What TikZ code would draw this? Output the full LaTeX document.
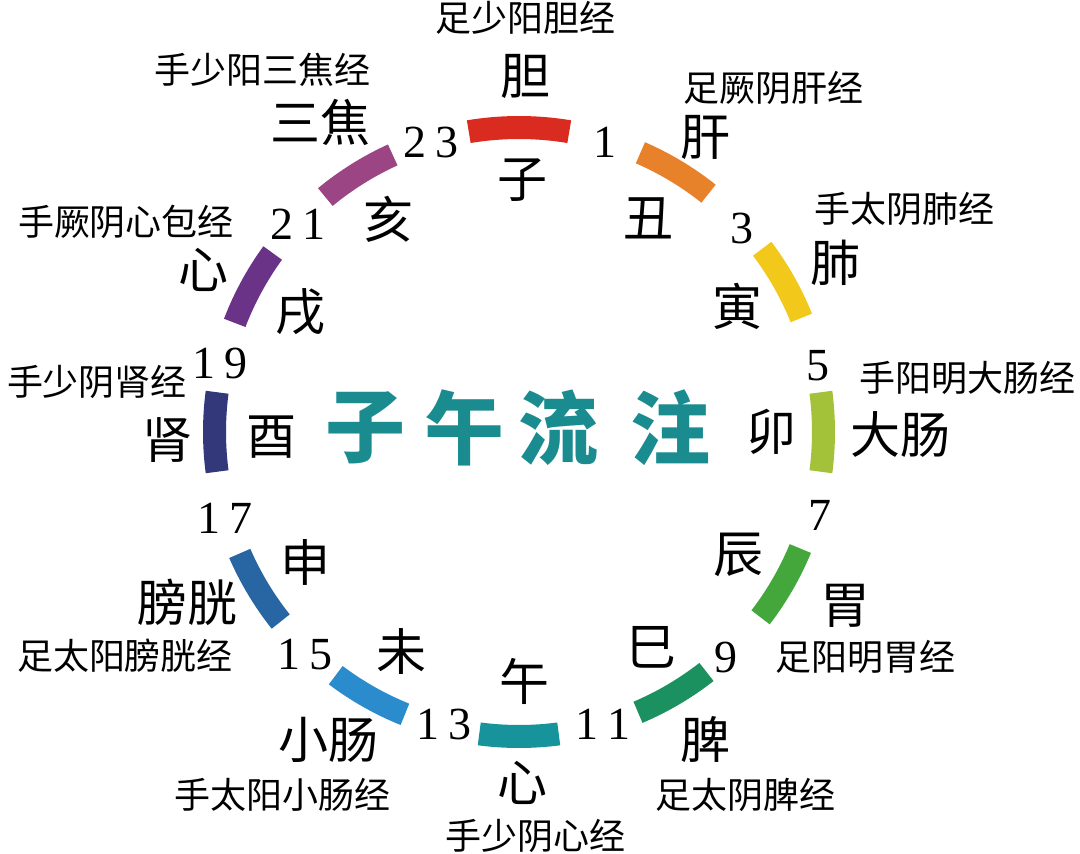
\documentclass[tikz,border=0pt]{standalone}
\usepackage{fontspec}
\newfontfamily\cjk{Noto Sans CJK SC}
\newfontfamily\numfont{Liberation Serif}
\usetikzlibrary{calc}
\definecolor{cDan}{HTML}{D92B20}
\definecolor{cGan}{HTML}{E8822A}
\definecolor{cFei}{HTML}{F2C81A}
\definecolor{cDachang}{HTML}{A3C23A}
\definecolor{cWei}{HTML}{43A73C}
\definecolor{cPi}{HTML}{1B9160}
\definecolor{cXin}{HTML}{17939B}
\definecolor{cXiaochang}{HTML}{2A8CCC}
\definecolor{cPangguang}{HTML}{2765A3}
\definecolor{cShen}{HTML}{33387A}
\definecolor{cXinbao}{HTML}{6A3388}
\definecolor{cSanjiao}{HTML}{9B4585}
\definecolor{cTitle}{HTML}{1A8C90}
\newcommand\segarc[3]{%
  \fill[#3] ($(C)+({-(#1)-(#2)}:316)$)
    arc[start angle={-(#1)-(#2)}, end angle={-(#1)+(#2)}, radius=316]
    -- ($(C)+({-(#1)+(#2)}:293)$)
    arc[start angle={-(#1)+(#2)}, end angle={-(#1)-(#2)}, radius=293]
    -- cycle;}
\tikzset{
  num/.style={font=\numfont\fontsize{46pt}{46pt}\selectfont, inner sep=0pt},
  branch/.style={font=\cjk\fontsize{50pt}{50pt}\selectfont, inner sep=0pt},
  organ/.style={font=\cjk\fontsize{50pt}{50pt}\selectfont, inner sep=0pt},
  meridian/.style={font=\cjk\fontsize{36pt}{36pt}\selectfont, inner sep=0pt},
  titlechar/.style={font=\cjk\bfseries\fontsize{80pt}{80pt}\selectfont, text=cTitle, inner sep=0pt}
}
\newcommand\dg{\kern9pt}
\begin{document}
\begin{tikzpicture}[x=1pt,y=-1pt]
\useasboundingbox (0,0) rectangle (1080,854);
\coordinate (C) at (519,432);
% arc segments (math angle, half span, colour)
\segarc{90}{9.5}{cDan}
\segarc{59}{7.5}{cGan}
\segarc{29.5}{7.5}{cFei}
\segarc{0}{7.5}{cDachang}
\segarc{-30}{7.5}{cWei}
\segarc{-59.5}{7.5}{cPi}
\segarc{-90}{7.5}{cXin}
\segarc{-119.5}{7.5}{cXiaochang}
\segarc{-149}{7.5}{cPangguang}
\segarc{180}{7.5}{cShen}
\segarc{151.5}{7.5}{cXinbao}
\segarc{122}{7.5}{cSanjiao}
% hour numbers
\node[num] (n1)  at (605,142) {1};
\node[num] (n3)  at (742,228) {3};
\node[num] (n5)  at (818,366) {5};
\node[num] (n7)  at (820,515) {7};
\node[num] (n9)  at (726,657) {9};
\node[num] (n11) at (603,724) {1\dg1};
\node[num] (n13) at (444,724) {1\dg3};
\node[num] (n15) at (305,655) {1\dg5};
\node[num] (n17) at (225,518) {1\dg7};
\node[num] (n19) at (220,363) {1\dg9};
\node[num] (n21) at (298,224) {2\dg1};
\node[num] (n23) at (431,142) {2\dg3};
% earthly branches
\node[branch] (bZi)   at (522,180) {子};
\node[branch] (bChou) at (648,218) {丑};
\node[branch] (bYin)  at (737,306) {寅};
\node[branch] (bMao)  at (771,432) {卯};
\node[branch] (bChen) at (738,555) {辰};
\node[branch] (bSi)   at (651,647) {巳};
\node[branch] (bWu)   at (524,681) {午};
\node[branch] (bWei)  at (401,652) {未};
\node[branch] (bShen) at (305,562) {申};
\node[branch] (bYou)  at (271,437) {酉};
\node[branch] (bXu)   at (300,312) {戌};
\node[branch] (bHai)  at (388,219) {亥};
% organs
\node[organ] (oDan)       at (525,76)  {胆};
\node[organ] (oGan)       at (705,137) {肝};
\node[organ] (oFei)       at (835,263) {肺};
\node[organ] (oDachang)   at (900,434) {大肠};
\node[organ] (oWei)       at (845,606) {胃};
\node[organ] (oPi)        at (705,740) {脾};
\node[organ] (oXin)       at (522,783) {心};
\node[organ] (oXiaochang) at (328,740) {小肠};
\node[organ] (oPangguang) at (187,602) {膀胱};
\node[organ] (oShen)      at (167,440) {肾};
\node[organ] (oXinbao)    at (203,270) {心};
\node[organ] (oSanjiao)   at (320,122) {三焦};
% meridians
\node[meridian] (mDan)       at (525,18)  {足少阳胆经};
\node[meridian] (mGan)       at (773,88)  {足厥阴肝经};
\node[meridian] (mFei)       at (904,209) {手太阴肺经};
\node[meridian] (mDachang)   at (967,378) {手阳明大肠经};
\node[meridian] (mWei)       at (865,657) {足阳明胃经};
\node[meridian] (mPi)        at (745,795) {足太阴脾经};
\node[meridian] (mXin)       at (535,836) {手少阴心经};
\node[meridian] (mXiaochang) at (282,795) {手太阳小肠经};
\node[meridian] (mPangguang) at (125,656) {足太阳膀胱经};
\node[meridian] (mShen)      at (97,382)  {手少阴肾经};
\node[meridian] (mXinbao)    at (126,222) {手厥阴心包经};
\node[meridian] (mSanjiao)   at (262,70)  {手少阳三焦经};
% title
\node[titlechar] (t1) at (365,428) {子};
\node[titlechar] (t2) at (464,428) {午};
\node[titlechar] (t3) at (558,428) {流};
\node[titlechar] (t4) at (670,428) {注};
\end{tikzpicture}
\end{document}
